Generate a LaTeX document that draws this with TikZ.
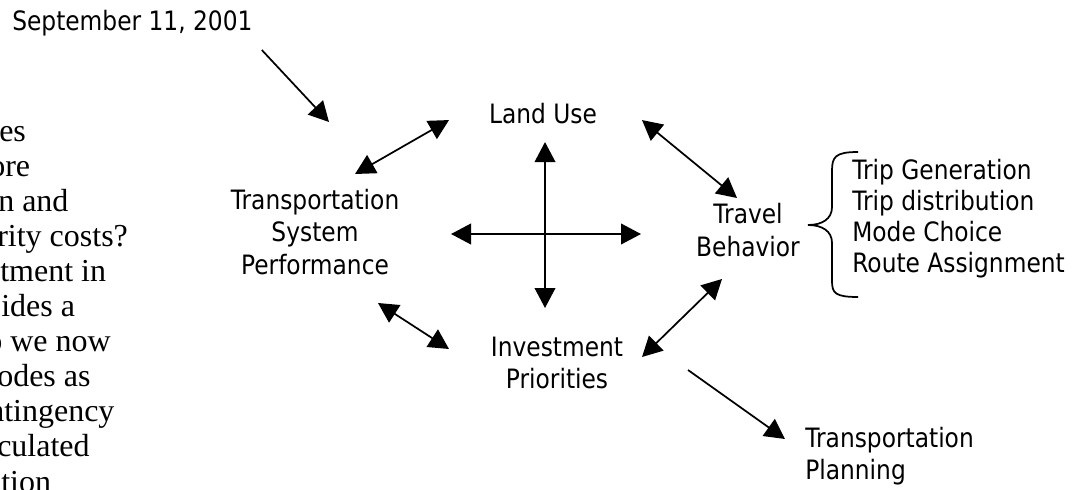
\documentclass[tikz,border=0pt]{standalone}
\usepackage{fontspec}
\setmainfont{DejaVu Sans}[FakeStretch=0.875]
\newfontfamily\notefont{Liberation Serif}
\usetikzlibrary{arrows.meta,calc}

\tikzset{
  label text/.style={inner sep=0pt, font=\fontsize{20}{24.4}\selectfont},
  note line/.style={inner sep=0pt, anchor=base west, font=\notefont\fontsize{24}{26}\selectfont},
  link/.style={line width=1.3pt, -{Triangle[length=15pt,width=15.5pt]}},
  dlink/.style={line width=1.3pt, {Triangle[length=15pt,width=15.5pt]}-{Triangle[length=15pt,width=15.5pt]}},
  brace line/.style={line width=1.3pt}
}

\begin{document}
\begin{tikzpicture}[x=0.75pt, y=-0.75pt]
  \clip (0,0) rectangle (1080,489);
  \useasboundingbox (0,0) rectangle (1080,489);

  % margin note, cut off at the left edge
  \node[note line] (n1)  at (-1,141)  {es};
  \node[note line] (n2)  at (-11,176) {ore};
  \node[note line] (n3)  at (-2,211)  {n and};
  \node[note line] (n4)  at (-3,246)  {rity costs?};
  \node[note line] (n5)  at (0,281)   {tment in};
  \node[note line] (n6)  at (1,316)   {ides a};
  \node[note line] (n7)  at (-14,351) {o we now};
  \node[note line] (n8)  at (-3,386)  {odes as};
  \node[note line] (n9)  at (-12,421) {ntingency};
  \node[note line] (n10) at (-3,456)  {culated};
  \node[note line] (n11) at (1,492)   {tion};

  % main elements
  \node[label text, anchor=base west] (sept) at (12,31) {September 11, 2001};
  \node[label text, anchor=base] (land) at (543,123) {Land Use};
  \node[label text, align=center] (tsp) at (315,232) {Transportation\\System\\Performance};
  \node[label text, align=center] (trav) at (748,230) {Travel\\Behavior};
  \node[label text, align=center] (inv) at (557,363) {Investment\\Priorities};
  \node[label text, align=left, anchor=west] (plan) at (805,456) {Transportation\\Planning};
  \node[label text, align=left, anchor=west, font=\fontsize{20}{23.25}\selectfont] (steps) at (852,219)
    {Trip Generation\\Trip distribution\\Mode Choice\\Route Assignment};

  % brace grouping the travel behaviour steps
  \draw[brace line, shift={(steps.west)}]
    (6,-67) .. controls (-17,-67) and (-20,-62) .. (-20,-48)
    -- (-20,-12) .. controls (-20,0) and (-30,6) .. (-44,6)
    .. controls (-30,6) and (-20,12) .. (-20,24)
    -- (-20,62) .. controls (-20,74) and (-17,78) .. (6,78);

  % connectors
  \draw[link]  ($(sept.base east)+(9,19)$) -- ($(tsp)+(14,-110)$);
  \draw[dlink] ($(tsp)+(40,-58)$) -- ($(land)+(-94,7)$);
  \draw[dlink] ($(land)+(99,7)$) -- ($(trav)+(-11,-32)$);
  \draw[dlink] ($(land)+(2,29)$) -- ($(inv)+(-12,-55)$);
  \draw[dlink] ($(tsp)+(136,2)$) -- ($(trav)+(-107,4)$);
  \draw[dlink] ($(tsp)+(63,71)$) -- ($(inv)+(-108,-14)$);
  \draw[dlink] ($(inv)+(85,-6)$) -- ($(trav)+(-26,49)$);
  \draw[link]  ($(inv)+(131,7)$) -- ($(plan.west)+(-20,-17)$);
\end{tikzpicture}
\end{document}
